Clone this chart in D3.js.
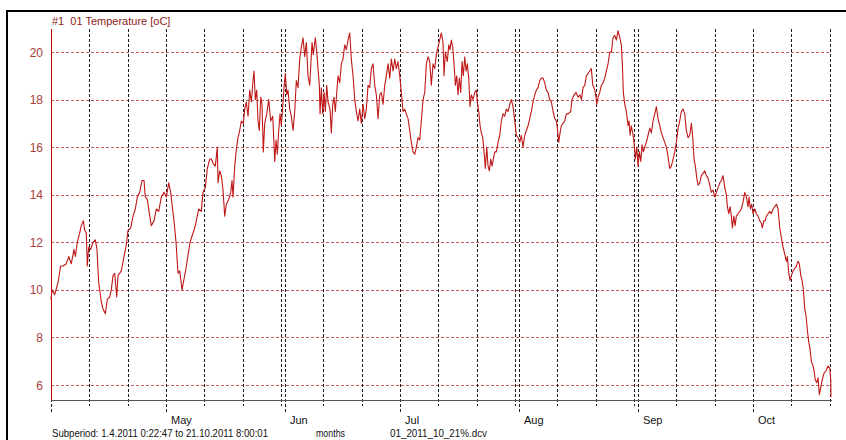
<!DOCTYPE html>
<html>
<head>
<meta charset="utf-8">
<script src="https://cdn.jsdelivr.net/npm/d3@7"></script>
<style>
  body { margin: 0; background: #fff; }
  svg { display: block; }
  text { font-family: "Liberation Sans", Arial, sans-serif; }
</style>
</head>
<body>
<div id="chart"></div>
<script>
// Subperiod of the logger file
const periodStart = new Date(2011, 3, 1, 0, 22, 47);
const periodEnd = new Date(2011, 9, 21, 8, 0, 1);

// readings: [days since periodStart, temperature oC]
const aprilReadings = [
  [0.0, 9.6], [0.26, 10.0], [0.96, 9.8], [1.82, 10.3], [2.52, 11.0], [3.13, 11.0], [3.99, 11.1], [4.61, 11.4],
  [5.29, 11.1], [6.0, 11.7], [6.34, 11.4], [6.86, 12.0], [7.48, 12.4], [7.9, 12.7], [8.42, 12.9], [8.79, 12.5],
  [9.2, 12.4], [9.46, 11.0], [9.83, 11.8], [10.35, 11.7], [10.95, 12.0], [11.55, 12.1], [11.99, 11.7], [12.43, 10.3],
  [13.11, 9.5], [13.56, 9.2], [14.16, 9.0], [14.68, 9.6], [15.3, 9.7], [15.72, 10.0], [16.16, 10.6], [16.6, 10.7],
  [17.13, 9.7], [17.47, 10.6], [18.33, 10.8], [19.03, 11.4], [19.63, 11.9], [20.07, 12.5], [20.78, 12.6], [21.38, 13.1],
  [21.98, 13.4], [22.5, 13.9], [23.12, 14.1], [23.72, 14.6], [24.24, 14.6], [24.58, 13.9], [25.1, 13.8], [25.55, 13.3],
  [26.15, 12.7], [26.85, 12.9], [27.45, 13.4], [28.08, 13.3], [28.75, 13.9], [29.46, 14.1]
];
const mayReadings = [
  [30.06, 13.9], [30.68, 14.5], [31.2, 14.1], [31.54, 13.6], [32.06, 12.9], [32.59, 12.0], [33.11, 10.7], [33.55, 10.8],
  [34.15, 10.0], [35.19, 10.9], [36.24, 12.0], [37.46, 12.6], [37.88, 12.9], [38.5, 13.4], [39.18, 13.3], [39.62, 14.1],
  [40.22, 14.3], [40.75, 15.1], [41.37, 15.5], [41.79, 15.5], [42.31, 15.3], [42.83, 15.2], [43.35, 16.0], [43.54, 14.5],
  [43.98, 15.0], [44.4, 14.8], [44.84, 14.2], [45.28, 13.1], [45.7, 13.6], [46.32, 13.8], [46.85, 14.1], [47.18, 14.6],
  [47.45, 13.9], [47.89, 15.2], [48.31, 15.9], [48.75, 16.4], [49.19, 16.7], [49.61, 17.1], [50.13, 17.0], [50.5, 17.6],
  [50.91, 17.9], [51.36, 17.3], [51.8, 18.4], [52.22, 17.9], [52.66, 18.8], [52.92, 19.2], [53.26, 18.0], [53.62, 18.4],
  [53.96, 17.1], [54.3, 16.7], [54.67, 18.1], [55.0, 17.8], [55.34, 15.8], [55.71, 17.0], [56.23, 17.4], [56.75, 18.0],
  [57.27, 17.1], [57.8, 17.3], [58.32, 15.4], [58.66, 16.3], [58.99, 15.7], [59.36, 16.7], [59.7, 17.4], [60.04, 16.9],
  [60.4, 17.7], [60.74, 18.5]
];
const juneReadings = [
  [61.08, 19.1], [61.44, 18.2], [61.78, 18.4], [62.23, 17.6], [62.64, 17.3], [63.09, 16.7], [63.53, 17.5], [63.95, 18.8],
  [64.39, 18.5], [64.83, 19.7], [65.25, 20.2], [65.69, 20.6], [66.14, 19.8], [66.55, 20.4], [67.0, 19.0], [67.44, 18.6],
  [68.04, 20.4], [68.38, 19.9], [68.9, 20.6], [69.27, 20.0], [69.6, 19.3], [69.94, 18.6], [70.13, 17.4], [70.46, 18.5],
  [70.83, 17.4], [71.17, 18.3], [71.51, 17.5], [71.87, 18.6], [72.21, 17.9], [72.73, 17.6], [73.07, 16.6], [73.44, 17.8],
  [73.77, 18.1], [74.11, 17.5], [74.48, 18.3], [74.82, 19.0], [75.26, 18.7], [75.68, 19.5], [76.12, 19.7], [76.56, 20.3],
  [76.98, 20.1], [77.42, 20.5], [77.87, 20.8], [78.28, 19.7], [78.73, 19.0], [79.17, 18.0], [79.59, 17.5], [80.03, 17.1],
  [80.47, 17.6], [80.89, 17.0], [81.34, 17.8], [81.78, 17.2], [82.2, 17.6], [82.64, 18.6], [83.08, 18.5], [83.5, 19.3],
  [83.94, 19.5], [84.39, 18.6], [84.8, 18.2], [85.25, 17.2], [85.69, 18.2], [86.11, 18.3], [86.55, 17.8], [86.99, 18.6],
  [87.41, 19.0], [87.85, 19.5], [88.3, 18.9], [88.71, 19.7], [89.16, 19.2], [89.6, 19.7], [90.02, 19.3], [90.46, 19.6],
  [90.9, 19.0]
];
const julyReadings = [
  [91.32, 18.3], [91.76, 17.5], [92.21, 17.6], [92.62, 17.4], [93.07, 17.2], [93.51, 16.7], [93.93, 16.2], [94.37, 15.8],
  [94.81, 15.7], [95.23, 16.0], [95.67, 16.4], [96.12, 16.3], [96.53, 17.1], [96.98, 18.0], [97.42, 18.3], [97.84, 19.5],
  [98.28, 19.8], [98.72, 19.6], [99.14, 18.6], [99.58, 19.5], [100.03, 19.3], [100.44, 19.9], [100.89, 20.2], [101.75, 20.8],
  [102.19, 20.4], [102.45, 19.0], [102.79, 20.0], [103.31, 19.6], [103.68, 20.3], [104.01, 20.1], [104.35, 20.5], [104.72, 20.2],
  [105.06, 19.5], [105.4, 18.6], [105.76, 19.0], [106.1, 18.2], [106.44, 18.9], [106.81, 18.3], [107.14, 19.6], [107.48, 19.0],
  [107.85, 19.8], [108.19, 19.2], [108.53, 19.5], [108.89, 18.9], [109.23, 17.7], [109.57, 18.2], [110.01, 18.0], [110.45, 18.3],
  [110.87, 18.4], [111.13, 17.9], [111.5, 17.5], [111.84, 16.9], [112.17, 16.6], [112.54, 16.4], [112.88, 15.8], [113.22, 15.1],
  [113.58, 16.0], [113.92, 15.2], [114.26, 15.0], [114.63, 15.5], [114.96, 15.2], [115.3, 15.5], [115.67, 15.8], [116.08, 15.8],
  [116.53, 16.2], [116.97, 16.5], [117.39, 17.1], [117.83, 17.4], [118.27, 17.3], [118.69, 17.6], [119.14, 17.5], [119.58, 17.8],
  [120.0, 18.0], [120.44, 17.7], [120.88, 17.1], [121.3, 16.5], [121.74, 16.4]
];
const augustReadings = [
  [122.18, 16.2], [122.6, 16.5], [123.04, 16.0], [123.49, 16.5], [123.91, 16.7], [124.35, 16.9], [124.79, 17.2], [125.21, 17.5],
  [125.65, 17.9], [126.09, 18.2], [126.51, 18.4], [126.96, 18.5], [127.4, 18.8], [127.82, 18.9], [128.26, 18.9], [128.7, 18.7],
  [129.12, 18.4], [129.56, 18.3], [130.0, 18.0], [130.42, 17.9], [130.87, 17.5], [131.31, 17.2], [131.73, 17.1], [131.99, 16.8],
  [132.35, 16.2], [132.69, 16.6], [133.03, 16.9], [133.47, 17.0], [133.92, 17.1], [134.33, 17.4], [134.78, 17.4], [135.48, 17.5],
  [135.82, 18.0], [136.34, 18.2], [136.86, 18.3], [137.38, 18.1], [137.9, 18.2], [138.24, 18.0], [138.69, 18.5], [139.13, 18.6],
  [139.55, 19.0], [139.99, 19.1], [140.43, 19.2], [140.85, 19.3], [141.22, 18.6], [141.55, 18.5], [141.89, 18.3], [142.26, 17.8],
  [142.6, 18.1], [143.04, 18.3], [143.46, 18.6], [143.9, 18.7], [144.34, 18.9], [144.76, 19.2], [145.2, 19.5], [145.65, 20.0],
  [146.06, 20.0], [146.51, 20.6], [146.95, 20.7], [147.37, 20.5], [147.81, 20.9], [148.25, 20.6], [148.67, 20.3], [148.93, 19.5],
  [149.19, 18.3], [149.56, 17.8], [149.97, 17.5], [150.42, 16.9], [150.68, 17.1], [150.94, 16.5], [151.28, 16.9], [151.72, 16.5],
  [151.98, 16.2], [152.32, 15.5], [152.69, 16.0]
];
const septemberReadings = [
  [153.02, 15.2], [153.36, 15.8], [153.73, 15.4], [154.07, 16.1], [154.41, 15.8], [154.77, 16.0], [155.19, 16.2], [155.63, 16.5],
  [156.07, 16.8], [156.49, 16.6], [156.93, 17.1], [157.38, 17.4], [157.8, 17.7], [158.24, 17.2], [158.68, 16.9], [159.1, 16.6],
  [159.54, 16.4], [159.98, 16.2], [160.4, 16.0], [160.84, 15.6], [161.29, 15.1], [161.7, 15.2], [162.15, 15.5], [162.59, 15.8],
  [163.01, 16.2], [163.45, 16.8], [163.89, 17.1], [164.31, 17.5], [164.75, 17.6], [165.2, 17.4], [165.61, 16.7], [166.06, 16.4],
  [166.5, 16.5], [166.92, 17.0], [167.28, 16.4], [167.62, 15.5], [167.96, 15.2], [168.33, 14.7], [168.67, 14.4], [169.11, 14.5],
  [169.52, 14.8], [169.97, 14.9], [170.41, 15.0], [170.83, 14.8], [171.27, 14.7], [171.72, 14.4], [172.13, 14.1], [172.58, 14.2],
  [173.02, 13.9], [173.44, 14.1], [173.88, 14.3], [174.32, 14.5], [174.74, 14.6], [175.18, 14.8], [175.63, 14.3], [176.04, 14.0],
  [176.3, 13.5], [176.67, 13.2], [177.01, 13.5], [177.35, 13.1], [177.61, 12.6], [177.98, 13.1], [178.31, 12.7], [178.65, 13.1],
  [179.1, 13.2], [179.54, 13.3], [179.95, 13.4], [180.4, 13.7], [180.84, 14.1], [181.26, 13.9], [181.7, 13.5], [181.96, 13.9],
  [182.3, 13.4], [182.66, 13.6]
];
const octoberReadings = [
  [183.0, 13.2], [183.45, 13.4], [183.87, 13.2], [184.31, 13.1], [184.75, 12.9], [185.17, 12.8], [185.43, 12.6], [185.79, 12.9],
  [186.13, 12.9], [186.47, 13.1], [186.91, 13.2], [187.36, 13.3], [187.77, 13.2], [188.22, 13.4], [188.66, 13.5], [189.08, 13.6],
  [189.52, 13.4], [189.96, 12.6], [190.38, 12.2], [190.82, 11.8], [191.27, 11.5], [191.68, 11.2], [191.94, 11.4], [192.31, 10.7],
  [192.65, 10.4], [192.99, 10.6], [193.43, 10.8], [193.87, 10.9], [194.29, 11.0], [194.73, 11.2], [195.07, 11.1], [195.44, 10.6],
  [195.78, 10.4], [196.12, 10.0], [196.48, 9.2], [196.82, 8.9], [197.16, 8.3], [197.52, 7.8], [197.86, 7.5], [198.2, 7.0],
  [198.64, 6.8], [198.9, 6.6], [199.24, 6.2], [199.61, 6.1], [199.95, 6.3], [200.29, 5.6], [200.66, 5.9], [201.0, 6.2],
  [201.51, 6.5], [202.03, 6.6], [202.55, 6.8], [203.0, 6.7], [203.26, 6.2], [203.3, 5.5]
];

const yTicks = [6, 8, 10, 12, 14, 16, 18, 20];
const monthLabels = ["May", "Jun", "Jul", "Aug", "Sep", "Oct"];
const titleText = "#1  01 Temperature [oC]";
const subperiodText = "Subperiod: 1.4.2011 0:22:47 to 21.10.2011 8:00:01";
const unitText = "months";
const fileText = "01_2011_10_21%.dcv";

const width = 846, height = 440;
const plotLeft = 51, plotRight = 831, plotTop = 29, plotBottom = 400;

const readings = [].concat(aprilReadings, mayReadings, juneReadings, julyReadings,
  augustReadings, septemberReadings, octoberReadings);

const svg = d3.select("#chart")
  .append("svg")
  .attr("width", width)
  .attr("height", height);

// time axis and value axis
const x = d3.scaleTime()
  .domain([periodStart, periodEnd])
  .range([plotLeft, plotRight]);
const y = d3.scaleLinear()
  .domain([6, 20])
  .range([385, 52]);

const px = v => Math.round(v) + 0.5;

// outer frame (top and left edges)
svg.append("path")
  .attr("d", "M7,440V11H846")
  .attr("fill", "none")
  .attr("stroke", "#000")
  .attr("stroke-width", 2);

// horizontal grid
svg.append("g")
  .selectAll("line")
  .data(yTicks)
  .join("line")
  .attr("x1", plotLeft)
  .attr("x2", plotRight)
  .attr("y1", d => px(y(d)))
  .attr("y2", d => px(y(d)))
  .attr("stroke", "#c45a5a")
  .attr("stroke-dasharray", "3,2")
  .attr("shape-rendering", "crispEdges");

// vertical grid: 1st, 11th, 21st and 31st of each month
const gridDays = d3.timeDay.range(d3.timeDay.floor(periodStart), periodEnd)
  .filter(d => [1, 11, 21, 31].includes(d.getDate()));
const monthStarts = gridDays.filter(d => d.getDate() === 1 && d > periodStart);

svg.append("g")
  .selectAll("line")
  .data(gridDays)
  .join("line")
  .attr("x1", d => px(Math.max(x(d), plotLeft)))
  .attr("x2", d => px(Math.max(x(d), plotLeft)))
  .attr("y1", plotTop)
  .attr("y2", d => d.getDate() === 1 ? plotBottom + 12 : plotBottom + 6)
  .attr("stroke", "#1a1a1a")
  .attr("stroke-dasharray", "3,2")
  .attr("shape-rendering", "crispEdges");

// axes lines
svg.append("line")
  .attr("x1", plotLeft).attr("x2", plotRight + 1)
  .attr("y1", px(plotBottom)).attr("y2", px(plotBottom))
  .attr("stroke", "#555")
  .attr("shape-rendering", "crispEdges");
svg.append("line")
  .attr("x1", px(plotLeft)).attr("x2", px(plotLeft))
  .attr("y1", plotTop).attr("y2", plotBottom)
  .attr("stroke", "#c00000")
  .attr("shape-rendering", "crispEdges");

// y labels
svg.append("g")
  .selectAll("text")
  .data(yTicks)
  .join("text")
  .attr("x", 43)
  .attr("y", d => y(d) + 4.5)
  .attr("text-anchor", "end")
  .attr("font-size", 12)
  .attr("fill", "#a8403c")
  .text(d => d);

// month labels
svg.append("g")
  .selectAll("text")
  .data(monthStarts)
  .join("text")
  .attr("x", d => x(d) + 5)
  .attr("y", 424)
  .attr("font-size", 11)
  .attr("fill", "#111")
  .text((d, i) => monthLabels[i]);

// temperature curve
const line = d3.line()
  .x(d => x(new Date(+periodStart + d[0] * 864e5)))
  .y(d => y(d[1]));

svg.append("path")
  .datum(readings)
  .attr("fill", "none")
  .attr("stroke", "#c01818")
  .attr("stroke-width", 1.1)
  .attr("stroke-linejoin", "round")
  .attr("d", line);

// texts
svg.append("text")
  .attr("x", 52).attr("y", 25)
  .attr("font-size", 11)
  .attr("fill", "#8b1a1a")
  .attr("xml:space", "preserve")
  .text(titleText);

const footer = [
  { text: subperiodText, x: 52, w: 216 },
  { text: unitText, x: 316, w: 29 },
  { text: fileText, x: 390, w: 97 }
];
svg.append("g")
  .selectAll("text")
  .data(footer)
  .join("text")
  .attr("x", d => d.x)
  .attr("y", 437)
  .attr("font-size", 11)
  .attr("fill", "#111")
  .attr("textLength", d => d.w)
  .attr("lengthAdjust", "spacingAndGlyphs")
  .text(d => d.text);
</script>
</body>
</html>
